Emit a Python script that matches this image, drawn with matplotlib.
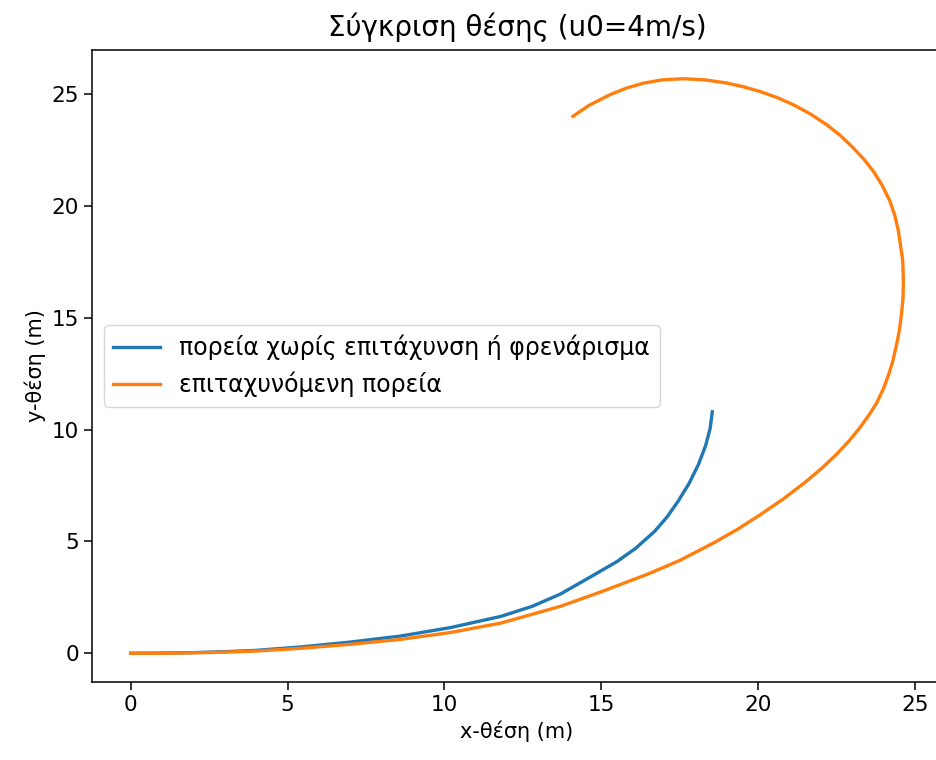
import numpy as np
import matplotlib
matplotlib.use("Agg")
import matplotlib.pyplot as plt

# ομαλή πορεία (χωρίς επιτάχυνση ή φρενάρισμα)
x_const = [0.0, 1.0, 2.0, 3.0, 4.0, 5.4, 7.0, 8.6, 10.2, 11.8, 12.8, 13.7,
           14.7, 15.5, 16.1, 16.7, 17.1, 17.45, 17.8, 18.1, 18.33, 18.47, 18.54]
y_const = [0.0, 0.01, 0.03, 0.07, 0.13, 0.28, 0.5, 0.77, 1.15, 1.65, 2.1, 2.65,
           3.45, 4.1, 4.7, 5.45, 6.1, 6.8, 7.6, 8.45, 9.3, 10.05, 10.8]

# επιταχυνόμενη πορεία
x_acc = [0.0, 1.0, 2.0, 3.0, 4.0, 5.4, 7.0, 8.6, 10.2, 11.8, 13.7, 15.0,
         16.5, 17.5, 18.6, 19.35, 20.06, 20.8, 21.5, 22.05, 22.5, 22.9, 23.25,
         23.53, 23.78, 24.0, 24.17, 24.3, 24.42, 24.51, 24.57, 24.62, 24.63,
         24.61, 24.47, 24.36, 24.2, 23.96, 23.67, 23.37, 23.03, 22.63, 22.18,
         21.67, 21.12, 20.6, 20.06, 19.53, 18.99, 18.3, 17.61, 16.95, 16.34,
         15.8, 15.27, 14.6, 14.1]
y_acc = [0.0, 0.0, 0.02, 0.05, 0.1, 0.22, 0.4, 0.62, 0.93, 1.35, 2.1, 2.75,
         3.55, 4.15, 4.95, 5.55, 6.19, 6.9, 7.65, 8.3, 8.9, 9.5, 10.1,
         10.65, 11.2, 11.85, 12.5, 13.1, 13.85, 14.5, 15.18, 15.9, 16.67,
         17.56, 18.9, 19.57, 20.23, 20.92, 21.57, 22.1, 22.61, 23.15, 23.65,
         24.12, 24.54, 24.86, 25.13, 25.34, 25.51, 25.65, 25.7, 25.65, 25.5,
         25.28, 24.98, 24.5, 24.02]

plt.rcParams["axes.linewidth"] = 1.1

fig = plt.figure(figsize=(9.36, 7.6), dpi=100)
ax = fig.add_axes([92 / 936, 78 / 760, 850 / 936, 632 / 760])

ax.plot(x_const, y_const, lw=2.4, label="πορεία χωρίς επιτάχυνση ή φρενάρισμα")
ax.plot(x_acc, y_acc, lw=2.4, label="επιταχυνόμενη πορεία")

ax.set_title("Σύγκριση θέσης (u0=4m/s)", fontsize=20, pad=10)
ax.set_xlabel("x-θέση (m)", fontsize=15)
ax.set_ylabel("y-θέση (m)", fontsize=15)
ax.tick_params(labelsize=15.5, length=6, width=1.1)
ax.legend(loc="center left", fontsize=17)

fig.savefig("out.png", dpi=100)
